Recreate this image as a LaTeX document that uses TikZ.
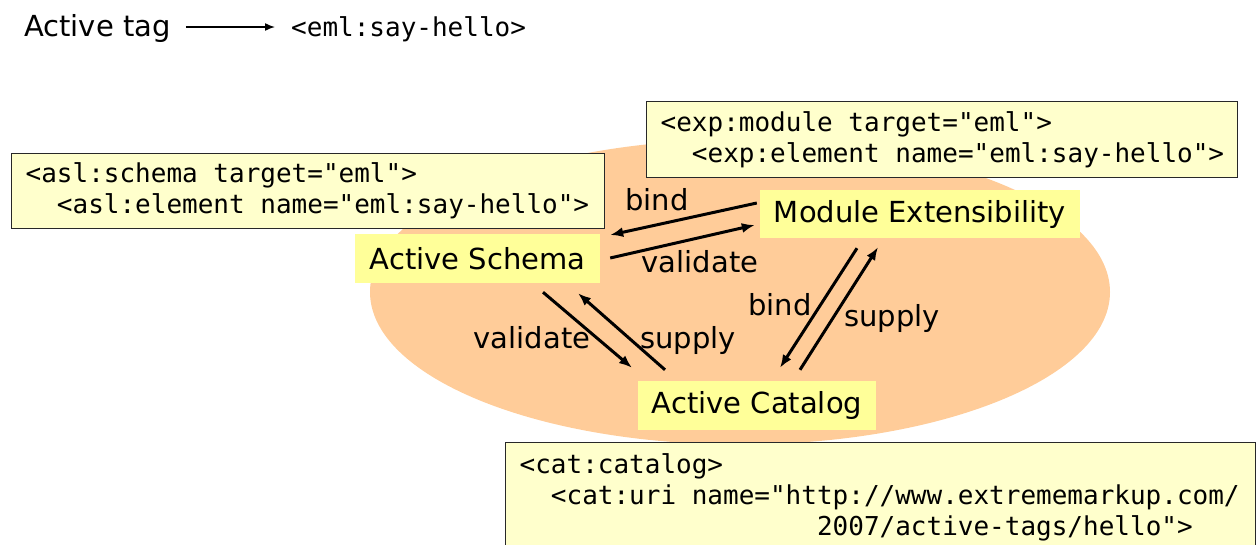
\documentclass[tikz,border=0pt]{standalone}
\usepackage{fontspec}
\setmainfont{DejaVu Sans}
\setmonofont{DejaVu Sans Mono}
\usetikzlibrary{arrows.meta,calc,shapes.geometric}
\definecolor{blob}{RGB}{255,204,153}
\definecolor{concfill}{RGB}{255,255,153}
\definecolor{codefill}{RGB}{255,255,204}
\definecolor{edge}{RGB}{40,40,40}
\newcommand\msp{\hphantom{x}}
\tikzset{
  concept/.style={fill=concfill, inner sep=0pt, font=\fontsize{29}{34}\selectfont},
  codebox/.style={fill=codefill, draw=edge, line width=1.3pt, inner xsep=14pt, inner ysep=4pt,
                  align=left, anchor=north west, font=\ttfamily\fontsize{26}{31}\selectfont},
  rel/.style={line width=3pt, -{Latex[length=13pt,width=10pt]}},
  lbl/.style={font=\fontsize{29}{34}\selectfont, inner sep=0pt},
}
\begin{document}
\begin{tikzpicture}[x=1pt,y=-1pt]
\useasboundingbox (0,0) rectangle (1259,544);
% legend
\node[lbl, anchor=base west] (tag) at (24,36) {Active tag};
\node[inner sep=0pt, anchor=base west, font=\ttfamily\fontsize{26}{31}\selectfont] (eml) at (291,36) {<eml:say-hello>};
\draw[line width=1.5pt, -{Latex[length=10pt,width=8pt]}] ($(tag.base east)+(15,-9)$) -- ($(eml.base west)+(-16,-9)$);
% background blob
\node[ellipse, fill=blob, minimum width=740, minimum height=305, inner sep=0pt] (blob) at (740,292) {};
% code boxes
\node[codebox, text width=565, minimum height=75] (asl) at (11,153)
  {<asl:schema\msp target="eml">\\\msp\msp<asl:element\msp name="eml:say-hello">};
\node[codebox, text width=563, minimum height=76] (exp) at (646,101)
  {<exp:module\msp target="eml">\\\msp\msp<exp:element\msp name="eml:say-hello">};
\node[codebox, text width=722, minimum height=110] (cat) at (505,442)
  {<cat:catalog>\\\msp\msp<cat:uri\msp name="http://www.extrememarkup.com/\\\hphantom{xxxxxxxxxxxxxxxxxxx}2007/active-tags/hello">};
% concepts
\node[concept, minimum width=245, minimum height=49] (AS) at (477.5,258.5) {Active Schema};
\node[concept, minimum width=320, minimum height=48] (ME) at (920,214) {Module Extensibility};
\node[concept, minimum width=238, minimum height=49] (AC) at (757,405.5) {Active Catalog};
% relations
\draw[rel] ($(ME.west)+(-3,-11)$) -- ($(AS.east)+(10,-23.5)$);
\draw[rel] ($(AS.east)+(10,-0.5)$) -- ($(ME.west)+(-5,11)$);
\draw[rel] ($(AS.south)+(65.5,9)$) -- ($(AC.north)+(-125,-13)$);
\draw[rel] ($(AC.north)+(-92,-11)$) -- ($(AS.south)+(100.5,10)$);
\draw[rel] ($(ME.south)+(-63,10)$) -- ($(AC.north)+(23,-13)$);
\draw[rel] ($(AC.north)+(43,-11)$) -- ($(ME.south)+(-42,9)$);
% labels
\node[lbl] (l1) at (657,200) {bind};
\node[lbl] (l2) at (700,262) {validate};
\node[lbl] (l3) at (532,338) {validate};
\node[lbl] (l4) at (688,340) {supply};
\node[lbl] (l5) at (780,305) {bind};
\node[lbl] (l6) at (892,318) {supply};
\end{tikzpicture}
\end{document}
